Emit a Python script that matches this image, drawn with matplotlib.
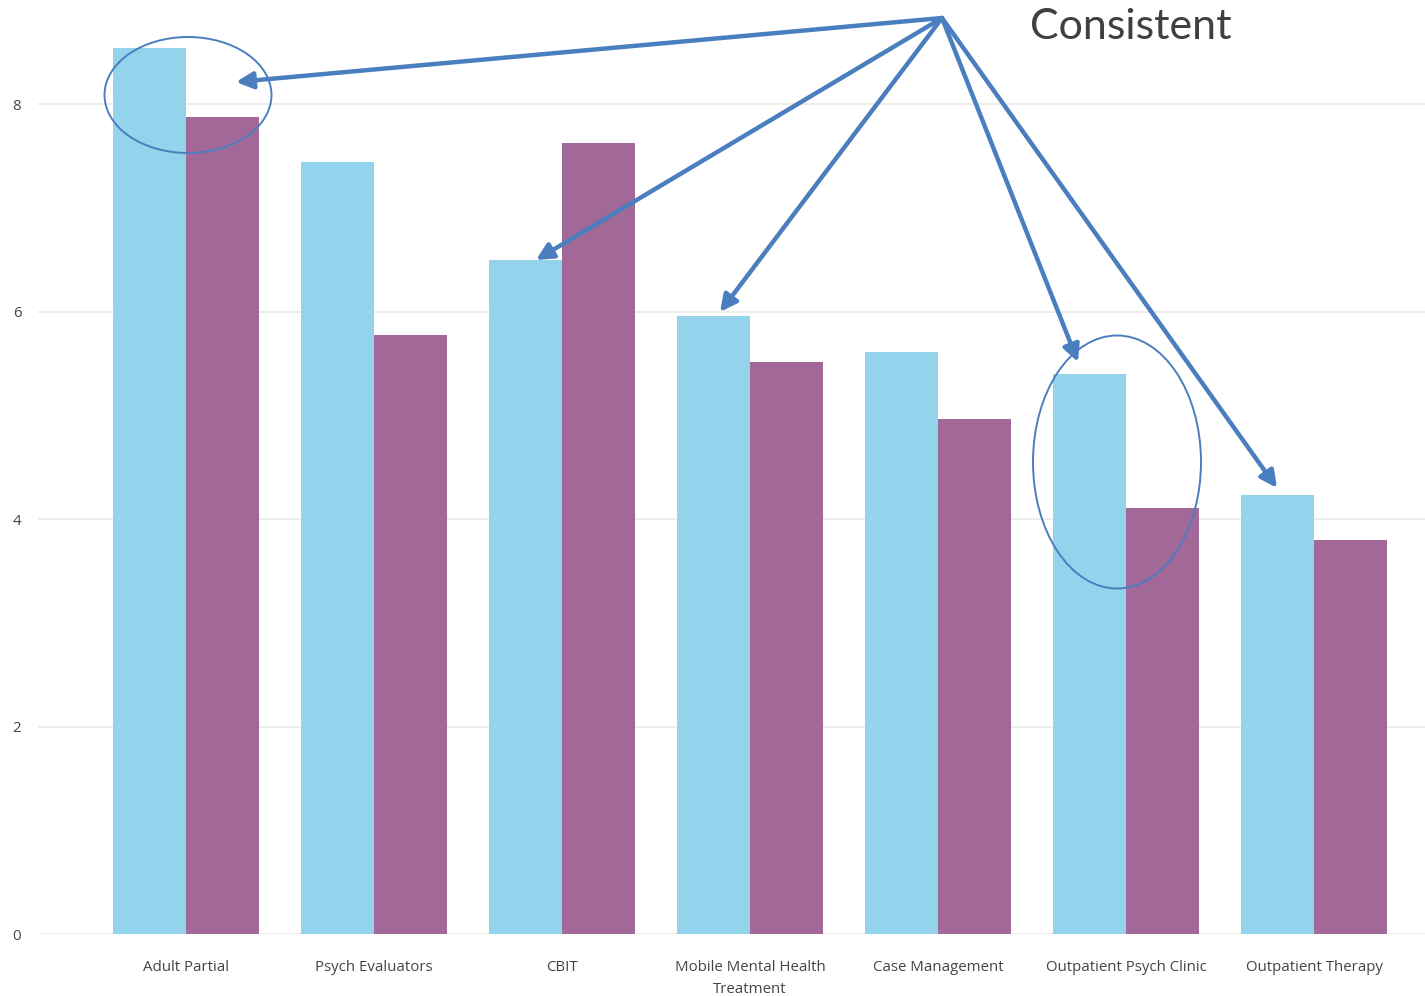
import matplotlib
matplotlib.use("Agg")
import matplotlib.pyplot as plt
from matplotlib.patches import Ellipse
import numpy as np

categories = ["Adult Partial", "Psych Evaluators", "CBIT",
              "Mobile Mental Health\nTreatment", "Case Management",
              "Outpatient Psych Clinic", "Outpatient Therapy"]
series_a = [8.54, 7.44, 6.50, 5.96, 5.61, 5.40, 4.23]
series_b = [7.87, 5.77, 7.62, 5.51, 4.96, 4.11, 3.80]
y_ticks = [0, 2, 4, 6, 8]

BLUE = "#94D3EC"
PURPLE = "#A26898"
ARROW = "#4A7EBF"

W, H = 1425, 996
fig = plt.figure(figsize=(W / 100, H / 100), dpi=100)
# plot area: x 38..1425 px, y 0..934 px
ax = fig.add_axes([38 / W, (H - 934) / H, (W - 38) / W, 934 / H])

x = np.arange(len(categories))
bw = 0.39
ax.bar(x - bw / 2, series_a, width=bw, color=BLUE, zorder=2)
ax.bar(x + bw / 2, series_b, width=bw, color=PURPLE, zorder=2)

ax.set_xlim(-(186 - 38) / 188, (1425 - 186) / 188)
ax.set_ylim(0, 934 / 103.75)
ax.set_yticks(y_ticks)
ax.set_yticklabels([str(t) for t in y_ticks])
ax.set_xticks(x)
ax.set_xticklabels(categories, linespacing=1.6)
ax.grid(axis="y", color="#E9E9E9", lw=1.2, zorder=0)
for s in ax.spines.values():
    s.set_visible(False)
ax.tick_params(axis="both", length=0, labelsize=10.8, labelcolor="#444444")
ax.tick_params(axis="y", pad=12)
ax.tick_params(axis="x", pad=19)
for lbl in ax.get_xticklabels() + ax.get_yticklabels():
    lbl.set_family("Open Sans")


def px(xp, yp):
    return ((xp - 186) / 188, (934 - yp) / 103.75)


# annotation arrows from one origin
origin = px(942, 18)
targets = [px(236, 82), px(536, 260), px(720, 312), px(1078, 362), px(1277, 488)]
for t in targets:
    ax.annotate("", xy=t, xytext=origin,
                arrowprops=dict(arrowstyle="-|>,head_length=1.0,head_width=0.5",
                                color=ARROW, lw=3.2, shrinkA=0, shrinkB=0),
                zorder=5)

# ellipses
for cx, cy, w, h in [(188, 95, 167, 116), (1117, 462, 168, 253)]:
    c = px(cx, cy)
    ax.add_patch(Ellipse(c, w / 188, h / 103.75, fill=False,
                         ec=ARROW, lw=1.4, zorder=6))

tx, ty = px(1030, 39)
ax.text(tx, ty, "Consistent", fontsize=31, color="#404040",
        family="Lato", va="baseline", ha="left", zorder=7)

fig.savefig("out.png", dpi=100)
